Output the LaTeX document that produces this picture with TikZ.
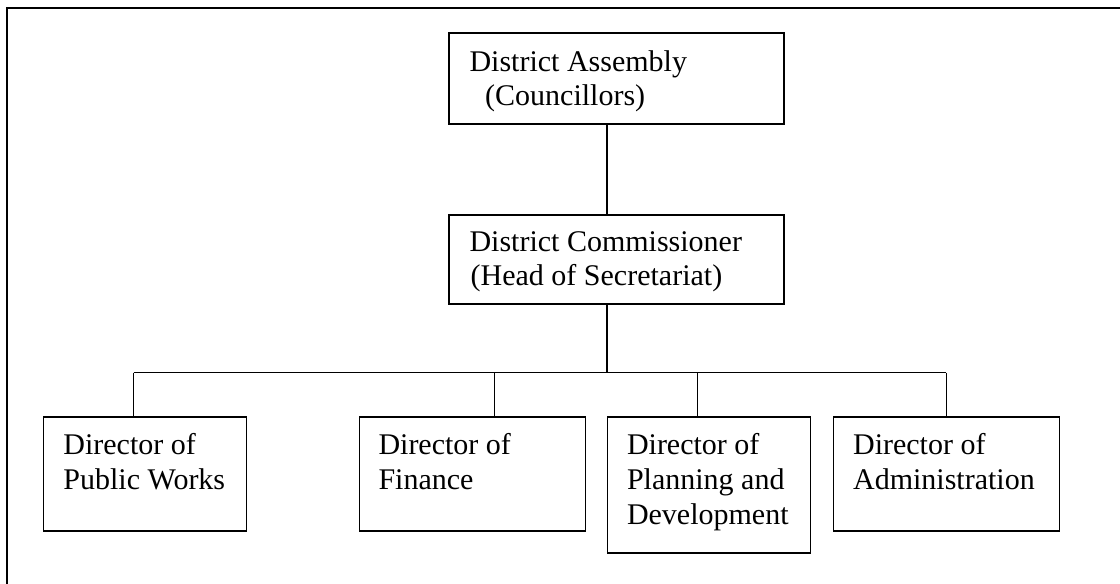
\documentclass[tikz,border=0pt]{standalone}
\usepackage{fontspec}
\setmainfont{Liberation Serif}
\begin{document}
\begin{tikzpicture}[x=1bp,y=-1bp,
  box/.style={draw, line width=1.1bp, inner sep=0pt, rectangle},
  txt/.style={anchor=base west, inner sep=0pt, font=\fontsize{30bp}{34.5bp}\selectfont},
  link/.style={line width=1.1bp},
  frame/.style={line width=2.2bp}]
\useasboundingbox (0,0) rectangle (1120,584);
% outer frame (open at right and bottom)
\coordinate (fb) at (7,584);
\coordinate (fc) at (7,8);
\coordinate (fr) at (1120,8);
\draw[frame] (fb) -- (fc) -- (fr);
% boxes
\node[box, minimum width=335bp, minimum height=91bp] (da) at (616.5,78.5) {};
\node[box, minimum width=335bp, minimum height=89bp] (dc) at (616.5,259.5) {};
\node[box, minimum width=203bp, minimum height=114bp] (d1) at (145,474) {};
\node[box, minimum width=225.7bp, minimum height=114bp] (d2) at (472.2,474) {};
\node[box, minimum width=203.2bp, minimum height=136bp] (d3) at (709.1,485) {};
\node[box, minimum width=226.1bp, minimum height=114bp] (d4) at (946.3,474) {};
% texts
\node[txt] (da1) at (469.3,71.7) {District Assembly};
\node[txt] (da2) at (485,105.7) {(Councillors)};
\node[txt] (dc1) at (469.3,251.7) {District Commissioner};
\node[txt] (dc2) at (470.5,285.7) {(Head of Secretariat)};
\node[txt] (t11) at (63.2,454) {Director of};
\node[txt] (t12) at (63.2,489.3) {Public Works};
\node[txt] (t21) at (378.3,454) {Director of};
\node[txt] (t22) at (378.3,489.3) {Finance};
\node[txt] (t31) at (626.8,454) {Director of};
\node[txt] (t32) at (626.8,489.3) {Planning and};
\node[txt] (t33) at (626.8,524.6) {Development};
\node[txt] (t41) at (852.9,454) {Director of};
\node[txt] (t42) at (852.9,489.3) {Administration};
% connectors
\coordinate (v) at (607,0);
\coordinate (bus) at (607,372.5);
\coordinate (j1) at (133.6,372.5);
\coordinate (j2) at (494.6,372.5);
\coordinate (j3) at (697.9,372.5);
\coordinate (j4) at (946.4,372.5);
\draw[link] (da.south -| v) -- (dc.north -| v);
\draw[link] (dc.south -| v) -- (bus);
\draw[link] (j1) -- (j4);
\draw[link] (j1) -- (j1 |- d1.north);
\draw[link] (j2) -- (j2 |- d2.north);
\draw[link] (j3) -- (j3 |- d3.north);
\draw[link] (j4) -- (j4 |- d4.north);
\end{tikzpicture}
\end{document}
